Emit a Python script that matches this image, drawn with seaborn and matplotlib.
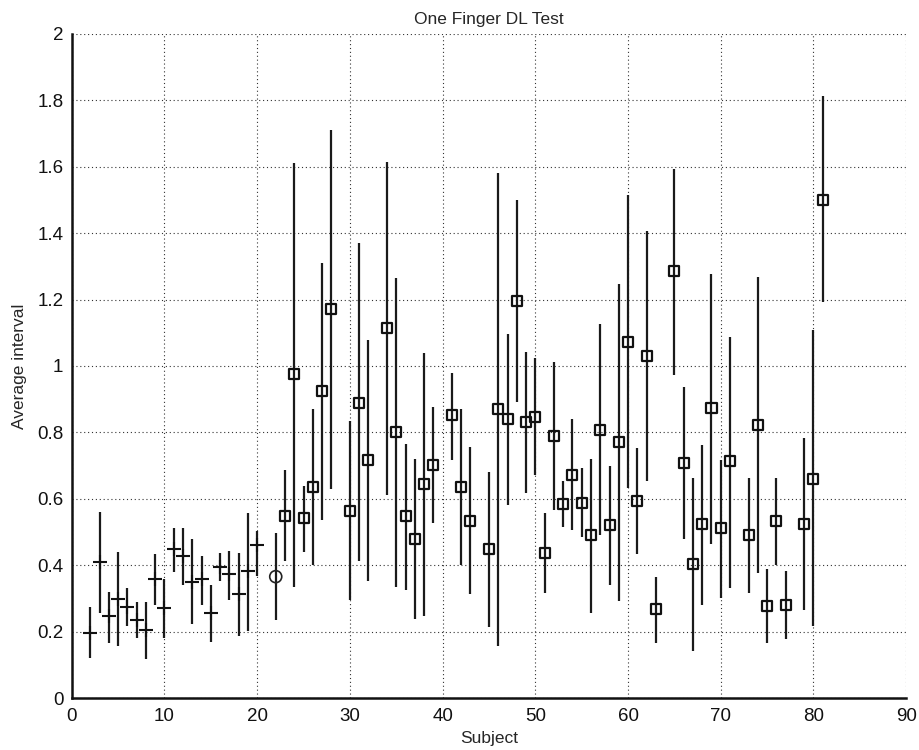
import numpy as np
import pandas as pd
import matplotlib
matplotlib.use("Agg")
import matplotlib.pyplot as plt
import seaborn as sns

# subjects 2-20 (plus markers)
cross_subject = [2, 3, 4, 5, 6, 7, 8, 9, 10, 11, 12, 13, 14, 15, 16, 17, 18, 19, 20]
cross_mean = [0.197, 0.410, 0.247, 0.300, 0.274, 0.237, 0.205, 0.360, 0.272, 0.448,
              0.428, 0.350, 0.358, 0.257, 0.396, 0.373, 0.313, 0.383, 0.461]
cross_low = [0.122, 0.257, 0.167, 0.157, 0.217, 0.182, 0.117, 0.282, 0.182, 0.381,
             0.340, 0.222, 0.282, 0.169, 0.353, 0.297, 0.187, 0.202, 0.368]
cross_high = [0.274, 0.562, 0.320, 0.440, 0.333, 0.290, 0.290, 0.433, 0.358, 0.513,
              0.513, 0.478, 0.428, 0.340, 0.438, 0.443, 0.438, 0.559, 0.503]

# subject 22 (circle)
circle_subject = [22]
circle_mean = [0.366]
circle_low = [0.237]
circle_high = [0.498]

# subjects 23-81 (squares)
square_subject = [23, 24, 25, 26, 27, 28, 30, 31, 32, 34, 35, 36, 37, 38, 39, 41, 42, 43,
                  45, 46, 47, 48, 49, 50, 51, 52, 53, 54, 55, 56, 57, 58, 59, 60, 61, 62,
                  63, 65, 66, 67, 68, 69, 70, 71, 73, 74, 75, 76, 77, 79, 80, 81]
square_mean = [0.550, 0.977, 0.542, 0.635, 0.925, 1.172, 0.565, 0.890, 0.716, 1.114,
               0.800, 0.548, 0.478, 0.644, 0.702, 0.852, 0.636, 0.534, 0.449, 0.872,
               0.840, 1.197, 0.832, 0.847, 0.437, 0.789, 0.586, 0.671, 0.589, 0.490,
               0.806, 0.522, 0.771, 1.073, 0.595, 1.030, 0.268, 1.286, 0.708, 0.405,
               0.525, 0.873, 0.511, 0.713, 0.490, 0.823, 0.278, 0.534, 0.281, 0.525,
               0.661, 1.501]
square_low = [0.412, 0.334, 0.441, 0.400, 0.537, 0.630, 0.296, 0.412, 0.354, 0.611,
              0.334, 0.325, 0.238, 0.249, 0.528, 0.717, 0.400, 0.313, 0.215, 0.157,
              0.582, 0.893, 0.617, 0.673, 0.316, 0.566, 0.516, 0.505, 0.484, 0.258,
              0.490, 0.342, 0.292, 0.632, 0.435, 0.655, 0.167, 0.974, 0.479, 0.142,
              0.281, 0.465, 0.301, 0.333, 0.318, 0.376, 0.167, 0.401, 0.177, 0.267,
              0.217, 1.194]
square_high = [0.687, 1.612, 0.640, 0.870, 1.309, 1.711, 0.835, 1.369, 1.079, 1.615,
               1.265, 0.766, 0.719, 1.038, 0.876, 0.980, 0.870, 0.756, 0.681, 1.580,
               1.096, 1.499, 1.041, 1.024, 0.559, 1.012, 0.655, 0.840, 0.693, 0.719,
               1.125, 0.698, 1.247, 1.514, 0.752, 1.406, 0.365, 1.593, 0.937, 0.664,
               0.763, 1.278, 0.717, 1.088, 0.662, 1.268, 0.389, 0.664, 0.383, 0.784,
               1.108, 1.813]

x_ticks = [0, 10, 20, 30, 40, 50, 60, 70, 80, 90]
y_ticks = [0, 0.2, 0.4, 0.6, 0.8, 1, 1.2, 1.4, 1.6, 1.8, 2]
y_tick_labels = ["0", "0.2", "0.4", "0.6", "0.8", "1", "1.2", "1.4", "1.6", "1.8", "2"]

sns.set_style("white")
plt.rcParams["font.family"] = ["Liberation Sans", "DejaVu Sans"]

crosses = pd.DataFrame({"Subject": cross_subject, "Mean": cross_mean,
                        "Low": cross_low, "High": cross_high})
circles = pd.DataFrame({"Subject": circle_subject, "Mean": circle_mean,
                        "Low": circle_low, "High": circle_high})
squares = pd.DataFrame({"Subject": square_subject, "Mean": square_mean,
                        "Low": square_low, "High": square_high})

fig = plt.figure(figsize=(9.2, 7.5), dpi=100)
ax = fig.add_axes([0.078, 0.069, 0.907, 0.886])

# error bars
for df in (crosses, circles, squares):
    ax.vlines(df["Subject"], df["Low"], df["High"], color="#1a1a1a", lw=1.6, zorder=2)

sns.scatterplot(data=crosses, x="Subject", y="Mean", marker="+", s=90,
                color="#111111", linewidth=1.5, ax=ax, zorder=3)
sns.scatterplot(data=circles, x="Subject", y="Mean", marker="o", s=75,
                facecolor="none", edgecolor="#222222", linewidth=1.2, ax=ax, zorder=3)
sns.scatterplot(data=squares, x="Subject", y="Mean", marker="s", s=52,
                facecolor="none", edgecolor="#111111", linewidth=1.6, ax=ax, zorder=3)

ax.set_xlim(0, 90)
ax.set_ylim(0, 2)
ax.set_xticks(x_ticks)
ax.set_yticks(y_ticks)
ax.set_yticklabels(y_tick_labels)
ax.grid(True, linestyle=(0, (1, 2.5)), color="#333333", lw=0.8)
ax.set_axisbelow(True)

for side in ("top", "right"):
    ax.spines[side].set_visible(False)
for side in ("left", "bottom"):
    ax.spines[side].set_linewidth(1.8)
    ax.spines[side].set_color("#111111")

ax.tick_params(direction="in", length=6, width=1.5, labelsize=13.5, colors="#111111")
ax.tick_params(axis="x", pad=7)
ax.tick_params(axis="y", pad=6)

ax.set_title("One Finger DL Test", fontsize=12.5, pad=7)
ax.set_xlabel("Subject", fontsize=12.5, labelpad=4)
ax.set_ylabel("Average interval", fontsize=12.5, labelpad=7)

fig.savefig("out.png", dpi=100)
